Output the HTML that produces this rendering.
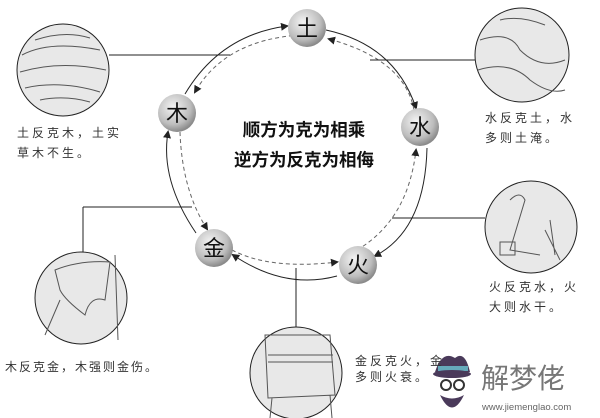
<!DOCTYPE html>
<html><head><meta charset="utf-8"><style>
body{margin:0;width:600px;height:418px;background:#fff;overflow:hidden;position:relative;font-family:"Liberation Sans","Noto Sans CJK SC",sans-serif}
.t{position:absolute;font-size:12px;color:#333;letter-spacing:3px;line-height:20px;white-space:nowrap}
</style></head><body>
<svg width="600" height="418" style="position:absolute;left:0;top:0">
<defs>
<radialGradient id="g" cx="40%" cy="35%" r="65%"><stop offset="0" stop-color="#f4f4f4"/><stop offset="0.7" stop-color="#bdbdbd"/><stop offset="1" stop-color="#8a8a8a"/></radialGradient>
<marker id="a" markerWidth="8" markerHeight="8" refX="6" refY="4" orient="auto"><path d="M0,0 L8,4 L0,8 z" fill="#222"/></marker>
</defs>
<g fill="none" stroke="#222" stroke-width="1">
<path d="M185,94 Q220,35 287,26" marker-end="url(#a)"/>
<path d="M326,30 Q395,45 416,108" marker-end="url(#a)"/>
<path d="M427,148 Q425,230 375,256" marker-end="url(#a)"/>
<path d="M337,276 Q285,290 233,255" marker-end="url(#a)"/>
<path d="M196,233 Q160,180 168,132" marker-end="url(#a)"/>
</g>
<g fill="none" stroke="#666" stroke-width="1" stroke-dasharray="4,3">
<path d="M300,35 Q225,40 195,92" marker-end="url(#a)"/>
<path d="M414,110 Q405,60 329,39" marker-end="url(#a)"/>
<path d="M357,250 Q408,220 416,150" marker-end="url(#a)"/>
<path d="M232,250 Q270,270 337,262" marker-end="url(#a)"/>
<path d="M180,132 Q182,190 207,229" marker-end="url(#a)"/>
</g>
<g stroke="#222" stroke-width="1">
<line x1="109" y1="55" x2="230" y2="55"/>
<line x1="370" y1="60" x2="476" y2="60"/>
<line x1="392" y1="218" x2="485" y2="218"/>
<line x1="83" y1="207" x2="192" y2="207"/><line x1="83" y1="207" x2="83" y2="252"/>
<line x1="296" y1="268" x2="296" y2="327"/>
</g>
<g fill="#e8e8e8" stroke="#222" stroke-width="1">
<circle cx="63" cy="70" r="46"/>
<circle cx="522" cy="55" r="47"/>
<circle cx="531" cy="227" r="46"/>
<circle cx="81" cy="298" r="46"/>
<circle cx="296" cy="373" r="46"/>
</g>
<g stroke="#555" fill="none" stroke-width="1">
<path d="M22,55 Q50,40 100,50 M20,72 Q60,60 106,70 M25,88 Q60,80 100,92 M35,40 Q65,30 90,38 M40,100 Q65,95 90,102"/>
<path d="M480,40 Q510,30 520,50 Q540,70 565,60 M478,70 Q510,60 530,80 Q550,95 565,90 M500,20 Q520,15 545,25"/>
<path d="M510,200 Q520,190 525,200 L510,250 L540,255 M545,230 L560,260 M550,220 L555,255 M500,242 L515,242 L515,255 L500,255 z"/>
<path d="M55,270 Q80,260 110,262 L105,300 Q90,295 85,315 Q65,300 60,290 z M115,255 L118,340 M60,300 L45,335"/>
<path d="M265,335 L330,335 L335,395 L268,398 z M268,355 L333,355 M268,362 L333,362 M272,398 L270,418 M330,395 L332,418"/>
</g>
<g fill="url(#g)">
<circle cx="307" cy="28" r="19"/><circle cx="420" cy="127" r="19"/><circle cx="358" cy="265" r="19"/><circle cx="214" cy="248" r="19"/><circle cx="177" cy="113" r="19"/>
</g>
<g font-size="22" text-anchor="middle" fill="#111" font-family="Noto Sans CJK SC,sans-serif">
<text x="307" y="36">土</text><text x="420" y="135">水</text><text x="358" y="273">火</text><text x="214" y="256">金</text><text x="177" y="121">木</text>
</g>
<g font-size="17.5" font-weight="bold" text-anchor="middle" fill="#111" font-family="Noto Sans CJK SC,sans-serif">
<text x="304" y="136">顺方为克为相乘</text><text x="304" y="166">逆方为反克为相侮</text>
</g>
<path d="M435,372 Q442,350 455,358 Q465,350 470,372 z" fill="#4a3a5a"/>
<rect x="438" y="366" width="30" height="5" fill="#6ab"/>
<ellipse cx="452" cy="374" rx="19" ry="4" fill="#4a3a5a"/>
<path d="M440,395 Q452,420 464,395 Q452,402 440,395 z" fill="#4a3a5a"/>
<circle cx="446" cy="385" r="5" fill="none" stroke="#333" stroke-width="2"/><circle cx="459" cy="385" r="5" fill="none" stroke="#333" stroke-width="2"/>
</svg>
<div class="t" style="left:17px;top:123px">土反克木，土实<br>草木不生。</div>
<div class="t" style="left:485px;top:108px">水反克土，水<br>多则土淹。</div>
<div class="t" style="left:489px;top:277px">火反克水，火<br>大则水干。</div>
<div class="t" style="left:5px;top:357px;letter-spacing:2px">木反克金，木强则金伤。</div>
<div class="t" style="left:355px;top:353px;line-height:16px">金反克火，金<br>多则火衰。</div>
<div style="position:absolute;left:481px;top:360px;font-size:28px;color:#777;font-family:'Noto Sans CJK SC',sans-serif;line-height:34px">解梦佬</div>
<div style="position:absolute;left:482px;top:402px;font-size:9.5px;color:#666">www.jiemenglao.com</div>
</body></html>
